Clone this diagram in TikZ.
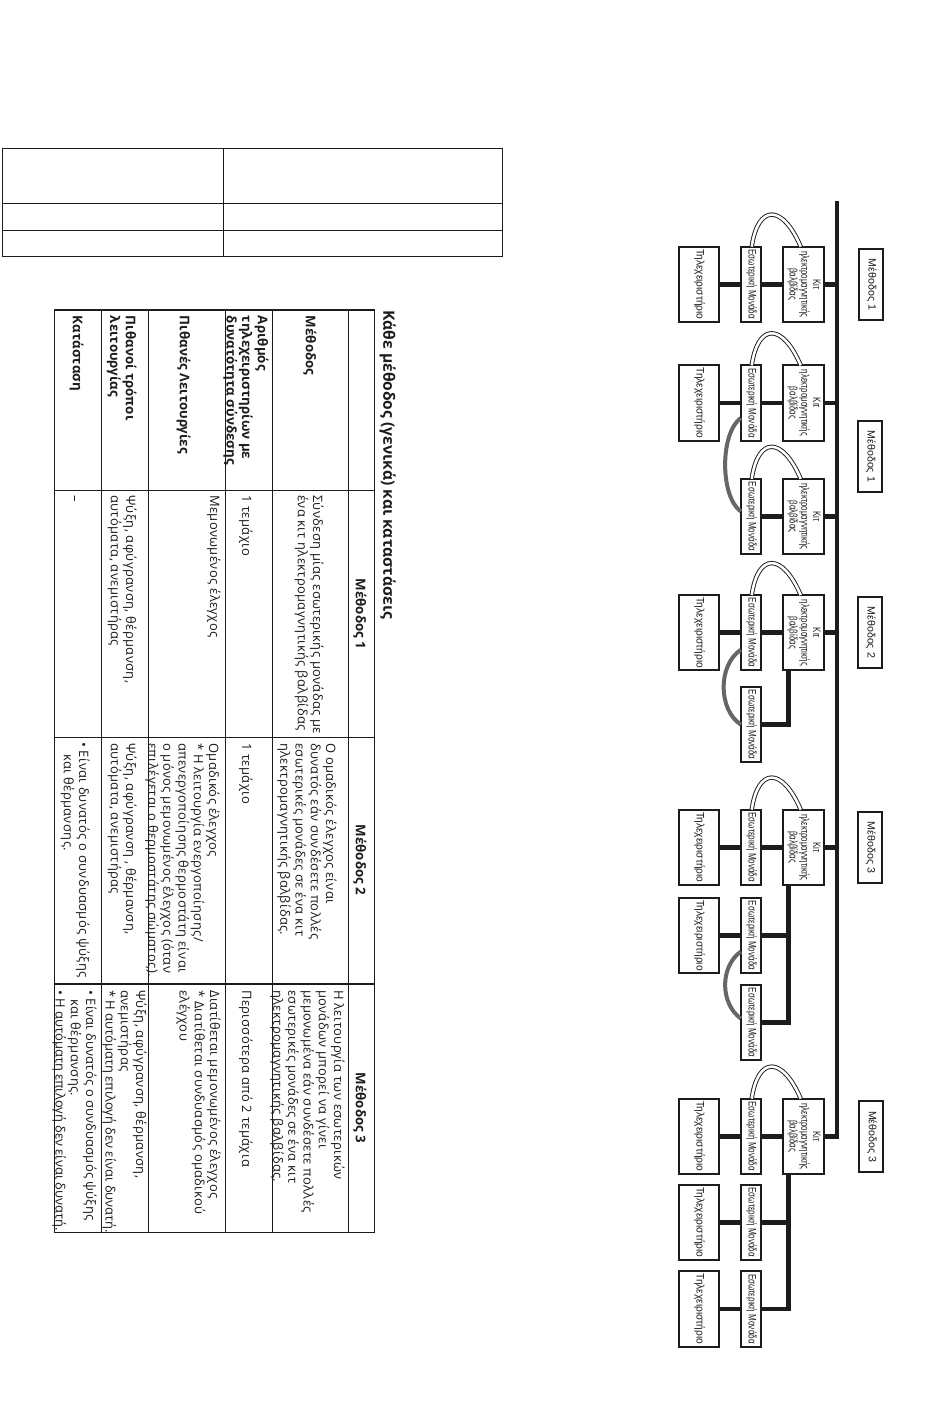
\documentclass[tikz,border=0pt]{standalone}
\usepackage{fontspec}
\usepackage{graphicx}
\usetikzlibrary{calc}
\setmainfont{Open Sans}
\newfontfamily\bodyfont[LetterSpace=3]{Open Sans}
\newfontfamily\midfont[LetterSpace=1.5]{Open Sans}
\newfontfamily\kitfont[FakeStretch=0.72]{Liberation Sans}
\newfontfamily\indoorfont[FakeStretch=0.74]{Liberation Sans}
\newfontfamily\remotefont[FakeStretch=0.93]{Liberation Sans}
\newfontfamily\labelfont{Liberation Sans}
\definecolor{ink}{HTML}{1C1C1C}
\definecolor{arcgray}{HTML}{666666}
\newcommand{\rot}[1]{\rotatebox[origin=c]{-90}{\begin{tabular}{@{}c@{}}#1\end{tabular}}}
\tikzset{
  unit/.style={draw=ink,line width=1.5pt,fill=white,inner sep=0pt,outer sep=0pt,text=ink},
  remote/.style={unit,minimum width=30.5pt,minimum height=56.5pt,font=\remotefont\fontsize{8.2}{8.6}\selectfont},
  indoor/.style={unit,minimum width=15.2pt,minimum height=56.5pt,font=\indoorfont\fontsize{8.2}{8.6}\selectfont},
  kit/.style={unit,minimum width=31pt,minimum height=56.5pt,font=\kitfont\fontsize{8.2}{8.7}\selectfont},
  methodbox/.style={unit,minimum width=18.2pt,minimum height=53.2pt,font=\labelfont\fontsize{8}{9}\selectfont},
  wire/.style={draw=ink,line width=3.5pt},
  busline/.style={draw=ink,line width=3pt},
  pipe/.style={draw=ink,line width=.7pt,double=white,double distance=1.9pt},
  grayarc/.style={draw=arcgray,line width=3pt},
  rule/.style={draw=ink,line width=.85pt},
  cell/.style={rotate=-90,anchor=north west,inner sep=0pt,align=left,text=ink,
    font=\bodyfont\fontsize{9.7}{11.4}\selectfont},
  headcell/.style={cell,font=\rmfamily\bfseries\fontsize{10}{11.7}\selectfont},
  colhead/.style={rotate=-90,anchor=center,inner sep=0pt,text=ink,font=\rmfamily\bfseries\fontsize{10}{11}\selectfont},
}
\begin{document}
\begin{tikzpicture}[x=0.75pt,y=-0.75pt]
\useasboundingbox (0,0) rectangle (950,1408);
\fill[white] (0,0) rectangle (950,1408);

% upper empty table
\draw[rule] (2.3,148.3) rectangle (502.3,256.3);
\draw[rule] (223.3,148.3) -- (223.3,256.3);
\draw[rule] (2.3,203.3) -- (502.3,203.3);
\draw[rule] (2.3,230.3) -- (502.3,230.3);

% main table
\draw[rule] (54.7,310) rectangle (374.3,1232.3);
\foreach \xx in {101.7,148.7,225.3,272.3,348.7}
  \draw[rule] (\xx,310) -- (\xx,1232.3);
\foreach \yy in {490.3,737.2,984}
  \draw[rule] (54.7,\yy) -- (374.3,\yy);

\node[rotate=-90,anchor=north west,inner sep=0pt,text=ink,font=\bfseries\fontsize{11.7}{13}\selectfont] (title) at (396,310) {Κάθε μέθοδος (γενικά) και καταστάσεις};

\node[colhead] (h1) at (360,614) {Μέθοδος 1};
\node[colhead] (h2) at (360,860) {Μέθοδος 2};
\node[colhead] (h3) at (360,1108) {Μέθοδος 3};

\node[headcell] (r1) at (317,315.7) {\strut Μέθοδος};
\node[headcell] (r2) at (269,315.7) {\strut Αριθμός\\τηλεχειριστηρίων με\\δυνατότητα σύνδεσης};
\node[headcell] (r3) at (191,315.7) {\strut Πιθανές Λειτουργίες};
\node[headcell] (r4) at (137,315.7) {\strut Πιθανοί τρόποι\\λειτουργίας};
\node[headcell] (r5) at (84,315.7) {\strut Κατάσταση};

\node[cell] (a1) at (324,495) {\strut Σύνδεση μίας εσωτερικής μονάδας με\\ένα κιτ ηλεκτρομαγνητικής βαλβίδας};
\node[cell] (a2) at (253,495) {\strut 1 τεμάχιο};
\node[cell] (a3) at (221,495) {\strut Μεμονωμένος έλεγχος};
\node[cell] (a4) at (137,495) {\strut Ψύξη, αφύγρανση, θέρμανση,\\αυτόματα, ανεμιστήρας};
\node[cell] (a5) at (82,495) {\strut –};

\node[cell] (b1) at (337,743) {\strut Ο ομαδικός έλεγχος είναι\\δυνατός εάν συνδέσετε πολλές\\εσωτερικές μονάδες σε ένα κιτ\\ηλεκτρομαγνητικής βαλβίδας.};
\node[cell] (b2) at (253,743) {\strut 1 τεμάχιο};
\node[cell] (b3) at (220,743) {\strut Ομαδικός έλεγχος\\* Η λειτουργία ενεργοποίησης/\\απενεργοποίησης θερμοστάτη είναι\\ο μόνος μεμονωμένος έλεγχος (όταν\\επιλέγεται ο θερμοστάτης σώματος).};
\node[cell] (b4) at (137,743) {\strut Ψύξη, αφύγρανση , θέρμανση,\\αυτόματα, ανεμιστήρας};
\node[cell] (b5) at (90,742) {\strut • Είναι δυνατός ο συνδυασμός ψύξης\\\hspace*{9pt}και θέρμανσης.};

\node[cell] (c1) at (345,990) {\strut Η λειτουργία των εσωτερικών\\μονάδων μπορεί να γίνει\\μεμονωμένα εάν συνδέσετε πολλές\\εσωτερικές μονάδες σε ένα κιτ\\ηλεκτρομαγνητικής βαλβίδας.};
\node[cell] (c2) at (253,990) {\strut Περισσότερα από 2 τεμάχια};
\node[cell] (c3) at (221,990) {\strut Διατίθεται μεμονωμένος έλεγχος\\* Διατίθεται συνδυασμός ομαδικού\\ελέγχου};
\node[cell] (c4) at (147,990) {\strut Ψύξη, αφύγρανση, θέρμανση,\\ανεμιστήρας\\{\rmfamily * Η αυτόματη επιλογή δεν είναι δυνατή.}};
\node[cell] (c5) at (97,990) {\strut {\midfont • Είναι δυνατός ο συνδυασμός ψύξης}\\\hspace*{7pt}και θέρμανσης.\\{\rmfamily • Η αυτόματη επιλογή δεν είναι δυνατή.}};

% bus
\coordinate (bustop) at (837.3,200.7);
\coordinate (busend) at (837.3,1139);
\coordinate (trunk) at (788.3,0);
\draw[busline] (bustop) -- (busend);

% units
\foreach \nm/\yy in {1/284.3,2/403,3/516.5,4/632.8,5/724.6,6/847.3,7/935.5,8/1022.5,9/1136.3,10/1222.3,11/1309}
  \node[indoor] (ind\nm) at (751,\yy) {\rot{Εσωτερική Μονάδα}};
\foreach \nm/\yy in {1/284.3,2/403,3/516.5,4/632.8,6/847.3,9/1136.3}
  \node[kit] (kit\nm) at (803.6,\yy) {\rot{Κιτ\\ηλεκτρομαγνητικής\\βαλβίδας}};
\foreach \nm/\yy in {1/284.3,2/403,4/632.8,6/847.3,7/935.5,9/1136.3,10/1222.3,11/1309}
  \node[remote] (rem\nm) at (699,\yy) {\rot{Τηλεχειριστήριο}};

\node[methodbox] (m1) at (871,284.5) {\rot{Μέθοδος 1}};
\node[methodbox] (m2) at (870,456.3) {\rot{Μέθοδος 1}};
\node[methodbox] (m3) at (870,632.3) {\rot{Μέθοδος 2}};
\node[methodbox] (m4) at (870,847.5) {\rot{Μέθοδος 3}};
\node[methodbox] (m5) at (871.3,1136.8) {\rot{Μέθοδος 3}};

% bus stubs
\foreach \nm in {1,2,3,4,6,9}
  \draw[wire] (kit\nm.east) -- (kit\nm.east -| bustop);
% kit to indoor, indoor to remote
\foreach \nm in {1,2,3,4,6,9}
  \draw[wire] (kit\nm.west) -- (ind\nm.east);
\foreach \nm in {1,2,4,6,7,9,10,11}
  \draw[wire] (ind\nm.west) -- (rem\nm.east);

% branches
\draw[wire] (kit4.south -| trunk) -- (trunk |- ind5.east) -- (ind5.east);
\draw[wire] (kit6.south -| trunk) -- (trunk |- ind8.east) -- (ind8.east);
\draw[wire] (ind7.east) -- (trunk |- ind7.east);
\draw[wire] (kit9.south -| trunk) -- (trunk |- ind11.east) -- (ind11.east);
\draw[wire] (ind10.east) -- (trunk |- ind10.east);

% refrigerant pipes
\foreach \nm in {1,2,3,4,6,9}
  \draw[pipe] ($(ind\nm.north)+(0.7,0)$) .. controls +(6.3,-42.7) and +(-18.3,-42.7) .. ($(kit\nm.north)+(-2.9,0)$);

% indoor to indoor links
\draw[grayarc] ($(ind2.west)+(0,15)$) .. controls +(-21,15) and +(-21,-15) .. ($(ind3.west)+(0,-5)$);
\draw[grayarc] ($(ind4.west)+(0,17)$) .. controls +(-23,15) and +(-23,-15) .. ($(ind5.west)+(0,0)$);
\draw[grayarc] ($(ind7.west)+(0,16)$) .. controls +(-21,15) and +(-21,-15) .. ($(ind8.west)+(0,-4)$);
\end{tikzpicture}
\end{document}
